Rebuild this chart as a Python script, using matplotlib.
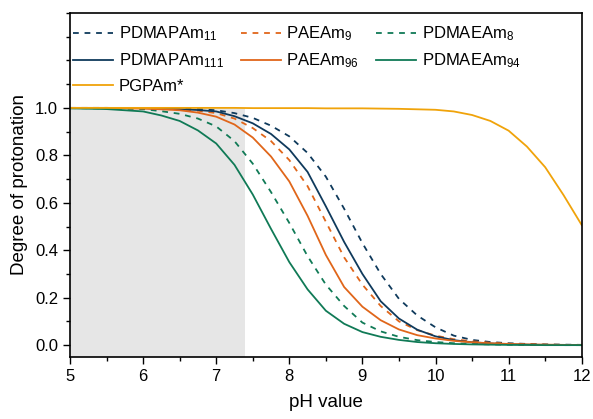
import matplotlib
matplotlib.use("Agg")
import matplotlib.pyplot as plt
from matplotlib.ticker import MultipleLocator

plt.rcParams['font.family'] = ['Liberation Sans', 'DejaVu Sans']
plt.rcParams['mathtext.fontset'] = 'custom'
plt.rcParams['mathtext.rm'] = 'Liberation Sans'
plt.rcParams['mathtext.it'] = 'Liberation Sans:italic'

pH = [5, 5.5, 6, 6.25, 6.5, 6.75, 7, 7.25, 7.5, 7.75, 8, 8.25, 8.5, 8.75, 9, 9.25,
      9.5, 9.75, 10, 10.25, 10.5, 10.75, 11, 11.25, 11.5, 11.75, 12]

pdmapam11 = [1.0, 1.0, 0.999, 0.998, 0.997, 0.995, 0.99, 0.978, 0.958, 0.925, 0.88, 0.81,
             0.71, 0.575, 0.43, 0.30, 0.195, 0.125, 0.075, 0.04, 0.022, 0.013,
             0.008, 0.005, 0.003, 0.002, 0.001]
paeam9 = [1.0, 1.0, 0.998, 0.996, 0.994, 0.988, 0.978, 0.955, 0.915, 0.86, 0.78, 0.67,
          0.52, 0.37, 0.255, 0.165, 0.10, 0.063, 0.04, 0.025, 0.016, 0.01,
          0.006, 0.004, 0.002, 0.001, 0.001]
pdmaeam8 = [0.999, 0.998, 0.995, 0.986, 0.975, 0.955, 0.922, 0.86, 0.765, 0.645, 0.515,
            0.375, 0.255, 0.165, 0.095, 0.058, 0.035, 0.021, 0.013, 0.008, 0.005,
            0.003, 0.002, 0.001, 0.001, 0.0, 0.0]
pdmapam111 = [1.0, 1.0, 0.999, 0.997, 0.995, 0.991, 0.985, 0.965, 0.935, 0.89, 0.825,
              0.73, 0.585, 0.435, 0.30, 0.185, 0.112, 0.065, 0.037, 0.021, 0.012,
              0.007, 0.004, 0.002, 0.001, 0.001, 0.0]
paeam96 = [1.0, 0.999, 0.997, 0.994, 0.99, 0.98, 0.963, 0.93, 0.875, 0.795, 0.69, 0.545,
           0.38, 0.245, 0.162, 0.105, 0.066, 0.042, 0.028, 0.018, 0.012, 0.008,
           0.005, 0.003, 0.002, 0.001, 0.0]
pdmaeam94 = [0.998, 0.995, 0.985, 0.968, 0.945, 0.905, 0.85, 0.76, 0.635, 0.49, 0.35,
             0.235, 0.145, 0.09, 0.055, 0.035, 0.022, 0.013, 0.008, 0.005, 0.003,
             0.002, 0.001, 0.001, 0.0, 0.0, 0.0]
pgpam = [1.0, 1.0, 1.0, 1.0, 1.0, 1.0, 1.0, 1.0, 0.999, 0.999, 0.999, 0.999, 0.998,
         0.998, 0.998, 0.997, 0.996, 0.994, 0.992, 0.985, 0.97, 0.945, 0.904,
         0.837, 0.75, 0.633, 0.506]

navy = '#0f3a5c'
orange = '#e0661a'
green = '#107a56'
yellow = '#f0a30a'

fig = plt.figure(figsize=(5.93, 4.19), dpi=100)
ax = fig.add_axes([0.118, 0.148, 0.863, 0.821])

ax.fill_between([5, 7.4], -0.05, 1.0, color='#e6e6e6', lw=0, zorder=0)

lw = 1.3
dash = (0, (3.2, 3.2))
h11, = ax.plot(pH, pdmapam11, color=navy, lw=lw, ls=dash, label='PDMAPAm$_{\\mathrm{11}}$')
h9, = ax.plot(pH, paeam9, color=orange, lw=lw, ls=dash, label='PAEAm$_{\\mathrm{9}}$')
h8, = ax.plot(pH, pdmaeam8, color=green, lw=lw, ls=dash, label='PDMAEAm$_{\\mathrm{8}}$')
h111, = ax.plot(pH, pdmapam111, color=navy, lw=lw, label='PDMAPAm$_{\\mathrm{111}}$')
h96, = ax.plot(pH, paeam96, color=orange, lw=lw, label='PAEAm$_{\\mathrm{96}}$')
h94, = ax.plot(pH, pdmaeam94, color=green, lw=lw, label='PDMAEAm$_{\\mathrm{94}}$')
hg, = ax.plot(pH, pgpam, color=yellow, lw=lw, label='PGPAm*')

ax.set_xlim(5, 12)
ax.set_ylim(-0.05, 1.40)
ax.set_yticks([0.0, 0.2, 0.4, 0.6, 0.8, 1.0])
ax.set_yticklabels(['0.0', '0.2', '0.4', '0.6', '0.8', '1.0'])
ax.xaxis.set_minor_locator(MultipleLocator(0.5))
ax.yaxis.set_minor_locator(MultipleLocator(0.1))
ax.tick_params(axis='both', which='major', direction='out', length=5, width=1,
               labelsize=12, top=False, right=False)
ax.tick_params(axis='both', which='minor', direction='out', length=3, width=1,
               top=False, right=False)
for s in ax.spines.values():
    s.set_linewidth(1.2)

ax.set_xlabel('pH value', fontsize=13.5, labelpad=7)
ax.set_ylabel('Degree of protonation', fontsize=13.5, labelpad=5)

handles = [h11, h111, hg, h9, h96, h8, h94]
ax.legend(handles=handles, labels=[h.get_label() for h in handles],
          loc='upper left', bbox_to_anchor=(0.006, 0.966), ncol=3,
          frameon=False, fontsize=12, handlelength=2.4, handletextpad=0.35,
          columnspacing=1.0, labelspacing=0.5, borderaxespad=0, borderpad=0)

fig.savefig('out.png', dpi=100)
